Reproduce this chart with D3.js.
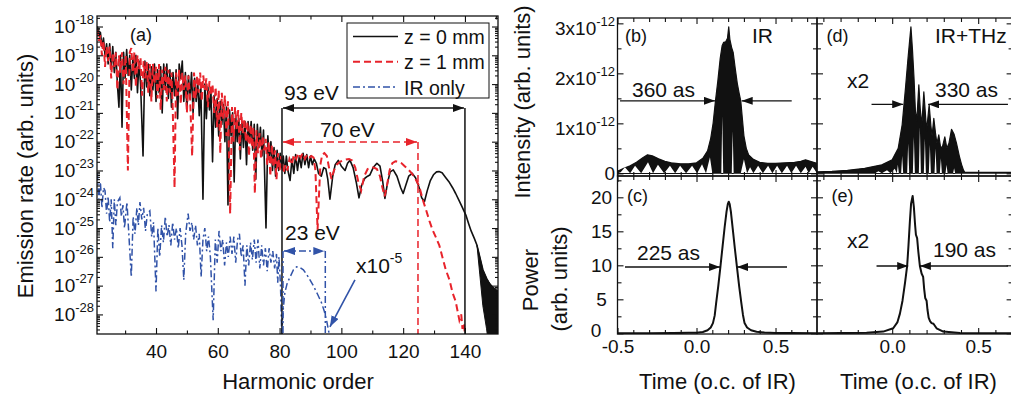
<!DOCTYPE html>
<html>
<head>
<meta charset="utf-8">
<script src="https://cdn.jsdelivr.net/npm/d3@7"></script>
<style>
  body { margin: 0; background: #fff; }
  svg { display: block; }
  text { font-family: "Liberation Sans", Arial, Helvetica, sans-serif; fill: #111; }
</style>
</head>
<body>
<svg id="fig" width="1011" height="399"></svg>
<script>
// ---------------- Panel (a): emission spectra, [harmonic order, log10(rate)] ----------------
const spectrumZ0 = [
  [21.0,-18.0],[21.5,-18.3],[22.0,-18.2],[22.5,-18.7],[23.0,-18.4],[23.5,-19.0],[24.0,-18.6],[24.5,-19.3],
  [25.0,-18.6],[25.5,-19.5],[26.0,-18.7],[26.5,-19.6],[27.0,-18.9],[27.5,-20.0],[28.0,-20.8],[28.5,-19.0],
  [29.0,-21.5],[29.5,-18.9],[30.0,-19.8],[30.5,-18.8],[31.0,-19.7],[31.5,-19.0],[32.0,-20.2],[32.5,-19.1],
  [33.0,-19.8],[33.5,-19.0],[34.0,-20.3],[34.5,-19.2],[35.0,-20.0],[35.8,-22.5],[36.4,-19.2],[37.0,-20.1],
  [37.5,-19.3],[38.0,-20.4],[38.5,-19.4],[39.0,-20.2],[39.5,-19.3],[40.0,-20.6],[40.5,-19.5],[41.0,-20.3],
  [41.5,-19.4],[42.0,-21.0],[42.5,-19.3],[43.0,-20.2],[43.5,-19.3],[44.0,-20.5],[44.5,-19.5],[45.0,-20.8],
  [45.5,-19.6],[46.0,-20.4],[46.5,-19.5],[47.0,-21.2],[47.5,-19.3],[48.0,-19.8],[48.5,-19.2],[49.0,-20.6],
  [49.5,-19.6],[50.0,-20.9],[50.5,-19.7],[51.0,-20.5],[51.5,-19.6],[52.0,-21.0],[52.5,-19.8],[53.0,-20.6],
  [53.5,-19.9],[54.0,-21.1],[54.5,-20.0],[55.2,-24.0],[55.8,-20.0],[56.3,-21.2],[56.8,-20.1],[57.3,-20.9],
  [57.8,-20.3],[58.3,-22.7],[58.8,-20.4],[59.3,-21.5],[59.8,-20.5],[60.3,-21.8],[60.8,-20.6],[61.3,-21.4],
  [61.8,-20.7],[62.3,-22.0],[62.8,-20.8],[63.3,-24.2],[63.8,-20.9],[64.3,-21.8],[64.8,-21.0],[65.3,-23.4],
  [65.8,-21.1],[66.3,-22.0],[66.8,-21.2],[67.3,-22.6],[67.8,-21.3],[68.3,-22.2],[68.8,-21.3],[69.3,-22.8],
  [69.8,-21.3],[70.3,-22.0],[70.8,-21.3],[71.3,-22.3],[71.8,-21.4],[72.3,-23.3],[72.8,-21.4],[73.3,-22.2],
  [73.8,-21.5],[74.3,-22.5],[74.8,-21.6],[75.6,-25.0],[76.2,-21.8],[76.7,-22.6],[77.2,-22.0],[77.7,-23.0],
  [78.2,-22.2],[78.7,-23.2],[79.2,-22.3],[79.7,-23.0],[80.2,-22.4],[80.7,-22.9],[81.2,-22.5],[81.7,-23.1],
  [82.2,-22.5],[82.7,-23.0],[83.4,-23.35],[84.0,-22.6],[84.6,-23.1],[85.2,-22.45],[85.8,-23.0],[86.4,-22.5],
  [87.0,-22.9],[87.6,-22.4],[88.2,-22.8],[88.8,-22.45],[89.4,-22.9],[90.0,-22.5],[90.6,-22.8],[91.2,-22.6],
  [91.9,-22.75],[92.6,-23.1],[93.5,-23.2],[94.3,-22.9],[95.0,-22.95],[95.6,-23.3],[96.3,-24.0],[97.2,-23.2],
  [98.0,-22.8],[99.0,-22.65],[100.0,-22.85],[101.2,-23.0],[102.0,-22.75],[102.8,-22.65],[103.8,-22.9],
  [104.8,-23.4],[105.7,-23.95],[106.6,-23.5],[107.6,-23.27],[108.5,-23.2],[109.2,-23.16],[110.3,-22.9],
  [111.5,-22.75],[112.5,-22.85],[113.4,-23.4],[114.1,-23.97],[115.0,-23.4],[115.8,-23.05],[116.8,-22.98],
  [118.0,-23.2],[119.2,-23.6],[120.0,-23.8],[120.9,-23.5],[121.8,-23.2],[122.9,-23.1],[124.0,-23.25],
  [125.2,-23.6],[126.0,-23.95],[126.9,-24.08],[127.8,-23.7],[128.8,-23.35],[129.8,-23.15],[130.8,-23.05],
  [131.6,-23.04],[132.6,-23.08],[133.8,-23.25],[135.0,-23.42],[136.0,-23.6],[137.0,-23.8],[138.0,-24.02],
  [139.0,-24.25],[140.3,-24.55],[141.2,-24.85],[142.0,-25.1],[143.0,-25.35],[143.9,-25.6],[144.8,-26.0],
  [145.8,-26.45],[147.0,-26.75],[148.0,-26.95],[149.0,-27.05],[150.0,-27.15],[150.6,-27.2],[150.7,-29.0]
];

// fast-oscillating cut-off tail of z = 0 mm: [order, upper log10, lower log10]
const spectrumZ0Tail = [
  [143.9,-25.6,-25.6],[144.8,-26.0,-26.6],[145.8,-26.45,-27.7],[147.0,-26.75,-28.5],
  [147.6,-26.85,-29.0],[148.6,-27.0,-29.0],[150.6,-27.2,-29.0]
];

const spectrumZ1 = [
  [21.0,-18.1],[21.5,-18.5],[22.0,-18.3],[22.5,-19.0],[23.0,-18.5],[23.5,-19.4],[24.0,-18.7],[24.5,-19.2],
  [25.0,-18.7],[25.5,-19.8],[26.0,-18.9],[26.5,-19.4],[27.0,-18.9],[27.5,-20.2],[28.0,-19.0],[28.5,-19.6],
  [29.0,-18.9],[29.5,-20.0],[30.2,-19.0],[30.9,-23.0],[31.5,-18.9],[32.0,-18.75],[32.5,-19.6],[33.0,-18.9],
  [33.5,-20.1],[34.0,-19.0],[34.5,-19.5],[35.0,-19.1],[35.5,-20.4],[36.0,-19.2],[36.5,-19.8],[37.0,-19.2],
  [37.5,-20.3],[38.0,-19.3],[38.5,-20.6],[39.0,-19.3],[39.5,-20.0],[40.0,-19.4],[40.5,-20.5],[41.0,-19.3],
  [41.5,-20.9],[42.0,-19.5],[42.5,-20.2],[43.0,-19.4],[43.5,-20.6],[44.0,-19.5],[44.5,-20.3],[45.0,-19.6],
  [45.4,-20.8],[46.0,-23.6],[46.5,-19.6],[47.0,-20.4],[47.5,-19.5],[48.0,-20.7],[48.5,-19.6],[49.0,-20.2],
  [49.5,-19.7],[50.0,-21.0],[50.5,-19.7],[51.0,-20.4],[51.7,-22.5],[52.3,-19.6],[52.8,-20.5],[53.3,-19.7],
  [53.8,-20.3],[54.3,-19.6],[54.8,-20.6],[55.3,-19.7],[55.8,-20.2],[56.3,-19.8],[56.8,-20.8],[57.3,-19.9],
  [57.8,-20.4],[58.3,-20.0],[58.8,-21.0],[59.3,-20.1],[59.8,-21.5],[60.3,-20.2],[60.8,-22.4],[61.3,-20.3],
  [61.8,-21.2],[62.3,-20.4],[62.8,-21.8],[63.3,-20.6],[64.0,-24.5],[64.6,-20.8],[65.1,-22.0],[65.6,-20.8],
  [66.1,-21.6],[66.6,-20.9],[67.1,-22.3],[67.6,-21.0],[68.1,-21.7],[68.6,-21.2],[69.1,-22.0],[69.6,-21.3],
  [70.1,-22.5],[70.6,-21.4],[71.1,-22.2],[71.5,-21.5],[72.0,-23.8],[72.5,-21.6],[73.0,-22.4],[73.5,-21.7],
  [74.0,-22.6],[74.5,-21.8],[75.0,-22.3],[75.5,-21.9],[76.0,-22.8],[76.5,-22.0],[77.0,-23.2],[77.5,-22.1],
  [78.0,-22.9],[78.5,-22.3],[79.0,-23.3],[79.5,-22.4],[80.0,-23.0],[80.5,-22.5],[81.2,-23.1],[81.9,-22.8],
  [82.5,-23.0],[83.2,-22.6],[84.0,-22.8],[84.6,-22.45],[85.4,-22.6],[86.0,-22.4],[86.8,-22.55],[87.5,-22.4],
  [88.2,-22.6],[88.9,-22.45],[89.6,-22.55],[90.3,-22.5],[91.0,-22.55],[91.6,-23.0],[92.0,-24.2],[92.3,-25.06],
  [92.7,-24.0],[93.2,-22.8],[93.8,-22.45],[94.5,-22.4],[95.3,-22.5],[96.0,-22.9],[96.8,-23.3],[97.6,-23.0],
  [98.5,-22.8],[99.5,-22.7],[100.5,-22.65],[101.5,-22.62],[102.5,-22.6],[103.5,-22.65],[104.5,-22.9],
  [105.5,-23.4],[106.4,-23.7],[107.4,-23.2],[108.5,-22.95],[109.5,-22.9],[110.5,-22.9],[111.5,-22.95],
  [112.5,-23.2],[113.3,-23.6],[114.0,-23.9],[114.8,-23.5],[115.6,-23.0],[116.5,-22.75],[117.5,-22.68],
  [118.5,-22.7],[119.5,-22.75],[120.5,-22.85],[121.5,-22.95],[122.8,-23.1],[124.0,-23.3],[125.2,-23.55],
  [126.3,-24.0],[127.5,-24.4],[128.5,-24.75],[129.5,-25.06],[130.5,-25.3],[131.7,-25.6],[132.8,-26.05],
  [133.8,-26.45],[135.0,-26.8],[136.0,-27.25],[137.0,-27.55],[138.2,-28.2],[138.8,-28.0],[139.2,-28.5],
  [139.7,-28.3],[140.2,-29.0]
];

const spectrumIRonly = [
  [21.0,-23.1],[21.5,-24.0],[22.0,-23.4],[22.5,-24.3],[23.0,-23.6],[23.5,-23.7],[24.0,-24.5],[24.5,-23.9],
  [25.0,-24.8],[25.5,-24.0],[26.0,-25.7],[26.5,-24.0],[27.0,-24.9],[27.5,-24.1],[28.3,-23.95],[28.8,-24.6],
  [29.3,-24.2],[29.8,-25.0],[30.6,-24.1],[31.2,-25.2],[32.0,-26.7],[32.6,-24.6],[33.2,-25.2],[33.8,-24.3],
  [34.3,-24.9],[34.8,-24.1],[35.4,-24.7],[36.0,-24.3],[36.6,-25.1],[37.2,-24.5],[38.0,-24.4],[38.6,-25.3],
  [39.2,-24.8],[40.0,-27.2],[40.6,-25.0],[41.2,-26.0],[41.8,-24.9],[42.4,-25.5],[43.0,-24.6],[43.6,-25.3],
  [44.2,-24.9],[44.8,-25.6],[45.4,-24.8],[46.0,-25.4],[46.6,-25.0],[47.2,-25.7],[47.8,-25.0],[48.4,-25.6],
  [49.0,-26.8],[49.6,-25.2],[50.4,-24.5],[51.0,-25.1],[51.6,-24.8],[52.2,-25.4],[52.8,-24.9],[53.4,-25.6],
  [54.0,-25.2],[54.6,-26.7],[55.2,-25.4],[55.8,-25.0],[56.4,-25.8],[57.0,-25.3],[57.6,-26.0],[58.5,-28.2],
  [59.2,-25.4],[59.8,-26.2],[60.4,-25.1],[61.0,-25.8],[61.6,-25.4],[62.2,-26.3],[62.8,-25.5],[63.4,-26.0],
  [64.0,-25.3],[64.6,-25.9],[65.2,-25.3],[65.8,-26.2],[66.4,-25.4],[67.0,-25.2],[67.6,-26.0],[68.2,-25.6],
  [68.8,-27.0],[69.4,-25.6],[70.0,-26.3],[70.6,-25.5],[71.2,-26.1],[71.8,-25.4],[72.4,-26.2],[73.0,-25.4],
  [73.6,-26.4],[74.2,-25.6],[74.8,-26.3],[75.4,-25.7],[76.0,-26.5],[76.6,-25.7],[77.2,-26.2],[77.8,-25.8],
  [78.4,-26.4],[79.0,-25.9],[79.4,-26.9],[79.8,-26.0],[80.3,-27.0],[80.7,-28.7],[81.2,-27.8],[81.7,-27.25],
  [82.5,-26.9],[83.4,-26.7],[84.5,-26.45],[85.5,-26.35],[86.6,-26.37],[87.7,-26.45],[89.3,-26.7],
  [90.9,-27.0],[92.3,-27.3],[93.6,-27.6],[94.5,-27.9],[95.2,-28.2],[96.1,-28.7]
];

const harmonicMajorTicks = [40, 60, 80, 100, 120, 140];
const harmonicMinorTicks = [30, 50, 70, 90, 110, 130, 150];
const emissionExponents = [-18, -19, -20, -21, -22, -23, -24, -25, -26, -27, -28];

// cut-off brackets: [left order, right order, level log10]
const bracket93 = [80.78, 140.0, -20.83];
const bracket70 = [80.78, 124.8, -22.01];
const bracket23 = [81.1, 94.8, -25.8];
const scaleArrowIR = [[104.4, -26.8], [96.3, -28.43]];

// ---------------- Panels (b)-(e): time profiles ----------------
// (b) IR only, intensity in units of 1e-12: upper envelope and the gaps under it
const intensityIRUpper = [
  [-0.50,0.04],[-0.46,0.10],[-0.42,0.15],[-0.38,0.22],[-0.34,0.31],[-0.31,0.37],[-0.28,0.35],[-0.24,0.29],
  [-0.20,0.24],[-0.16,0.21],[-0.10,0.19],[-0.05,0.19],[0.00,0.21],[0.04,0.30],[0.07,0.45],[0.09,0.70],
  [0.105,1.0],[0.12,1.45],[0.135,1.85],[0.15,2.3],[0.162,2.55],[0.172,2.62],[0.185,2.63],[0.196,2.70],
  [0.204,2.93],[0.211,2.68],[0.222,2.52],[0.232,2.42],[0.245,2.1],[0.258,1.8],[0.27,1.6],[0.28,1.45],
  [0.29,1.1],[0.30,0.75],[0.315,0.5],[0.33,0.37],[0.36,0.28],[0.40,0.22],[0.45,0.20],[0.50,0.20],
  [0.56,0.21],[0.62,0.22],[0.66,0.24],[0.69,0.27],[0.72,0.24],[0.7625,0.20]
];
const intensityIRLower = [
  [-0.50,0],[-0.48,0.02],[-0.453,0.12],[-0.42,0],[-0.389,0.15],[-0.35,0],[-0.307,0.22],[-0.275,0],
  [-0.244,0.17],[-0.205,0],[-0.168,0.15],[-0.135,0],[-0.104,0.15],[-0.066,0],[-0.028,0.15],[0.004,0],
  [0.035,0.18],[0.06,0],[0.085,0.32],[0.10,0],[0.157,0],[0.163,1.15],[0.169,0],[0.223,0],[0.229,0.85],
  [0.235,0],[0.28,0],[0.30,0.28],[0.32,0],[0.339,0.12],[0.36,0],[0.39,0.15],[0.42,0],[0.453,0.15],
  [0.48,0],[0.51,0.15],[0.54,0],[0.573,0.15],[0.60,0],[0.63,0.15],[0.66,0],[0.69,0.13],[0.71,0],
  [0.735,0.13],[0.7625,0]
];

// (d) IR+THz, intensity x2
const intensityTHzUpper = [
  [-0.437,0.03],[-0.35,0.04],[-0.26,0.06],[-0.16,0.10],[-0.06,0.17],[0.0,0.27],[0.035,0.5],[0.058,0.97],
  [0.078,1.73],[0.092,2.3],[0.10,2.6],[0.109,2.93],[0.118,2.47],[0.127,1.9],[0.135,1.25],[0.143,1.05],
  [0.155,1.77],[0.163,1.3],[0.172,0.95],[0.184,1.63],[0.193,1.2],[0.20,0.85],[0.215,1.37],[0.225,0.95],
  [0.232,0.75],[0.242,1.1],[0.252,0.8],[0.26,0.6],[0.271,0.77],[0.28,0.55],[0.29,0.5],[0.306,0.73],
  [0.318,0.5],[0.33,0.6],[0.345,0.88],[0.36,0.78],[0.374,0.6],[0.39,0.35],[0.403,0.18],[0.415,0.06],
  [0.422,0.02],[0.55,0.02],[0.70,0.02]
];
const intensityTHzLower = [
  [-0.437,0],[-0.10,0],[-0.08,0.04],[-0.06,0],[-0.03,0.06],[-0.01,0],[0.015,0.09],[0.027,0],
  [0.033,0.17],[0.039,0],[0.052,0],[0.058,0.35],[0.064,0],[0.087,0],[0.093,0.6],[0.099,0],
  [0.120,0],[0.126,0.73],[0.132,0],[0.155,0],[0.161,0.93],[0.167,0],[0.184,0],[0.19,0.7],[0.196,0],
  [0.213,0],[0.219,0.57],[0.225,0],[0.246,0],[0.252,0.5],[0.258,0],[0.277,0],[0.283,0.3],[0.289,0],
  [0.31,0],[0.316,0.17],[0.322,0],[0.354,0],[0.36,0.1],[0.366,0],[0.70,0]
];

// (c) and (e) filtered attosecond pulse power
const powerIR = [
  [-0.5,0],[-0.3,0.01],[-0.15,0.03],[-0.05,0.07],[0.0,0.1],[0.04,0.2],[0.07,0.45],[0.09,0.85],[0.104,1.5],
  [0.115,2.6],[0.124,4.4],[0.138,7.0],[0.151,9.75],[0.165,12.8],[0.178,15.6],[0.19,17.9],[0.198,19.0],
  [0.204,19.35],[0.21,19.0],[0.218,17.8],[0.23,15.2],[0.243,12.4],[0.256,9.75],[0.27,6.9],[0.284,4.4],
  [0.294,2.7],[0.304,1.5],[0.32,0.85],[0.345,0.45],[0.38,0.22],[0.43,0.12],[0.5,0.06],[0.6,0.03],[0.7625,0.01]
];
const powerTHz = [
  [-0.437,0.02],[-0.3,0.03],[-0.149,0.1],[-0.052,0.25],[0.006,0.74],[0.03,1.6],[0.045,2.9],[0.06,4.8],
  [0.075,7.5],[0.087,9.9],[0.095,13.0],[0.103,16.5],[0.11,19.1],[0.119,20.2],[0.126,18.6],[0.133,16.0],
  [0.138,14.5],[0.145,14.0],[0.152,12.0],[0.161,9.9],[0.171,8.8],[0.18,8.3],[0.186,6.5],[0.192,5.2],
  [0.2,4.8],[0.205,3.5],[0.212,2.3],[0.22,1.8],[0.229,1.5],[0.24,1.4],[0.258,0.74],[0.297,0.25],
  [0.394,0.05],[0.5,0.02],[0.7,0.01]
];

// FWHM markers: [level, left tail, left tip, right tip, right tail]
const fwhmB = [1.45, -0.484, 0.117, 0.286, 0.6025];
const fwhmC = [9.75, -0.4525, 0.149, 0.2563, 0.5728];
const fwhmD = [1.38, -0.12, 0.064, 0.209, 0.673];
const fwhmE = [9.9, -0.091, 0.093, 0.161, 0.673];

const timeMajorTicks = [-0.5, 0, 0.5];
const timeMinorTicks = [-0.4, -0.3, -0.2, -0.1, 0.1, 0.2, 0.3, 0.4, 0.6, 0.7];
const intensityMajorTicks = [0, 1, 2, 3];
const intensityMinorTicks = [0.5, 1.5, 2.5];
const powerMajorTicks = [0, 5, 10, 15, 20];
const powerMinorTicks = [2.5, 7.5, 12.5, 17.5, 22.5];

// ---------------- drawing ----------------
const RED = "#e8232b", BLUE = "#3153a8", BLACK = "#111";
const svg = d3.select("#fig");
const defs = svg.append("defs");

function marker(id, color, len, wid) {
  defs.append("marker").attr("id", id)
    .attr("viewBox", `0 0 ${len} ${wid}`).attr("refX", len).attr("refY", wid / 2)
    .attr("markerWidth", len).attr("markerHeight", wid)
    .attr("markerUnits", "userSpaceOnUse").attr("orient", "auto-start-reverse")
    .append("path").attr("d", `M0,0L${len},${wid / 2}L0,${wid}Z`).attr("fill", color);
}
marker("ahK", BLACK, 11, 8);
marker("ahR", RED, 11, 8);
marker("ahB", BLUE, 11, 8);

function clip(id, x0, y0, x1, y1) {
  defs.append("clipPath").attr("id", id).append("rect")
    .attr("x", x0).attr("y", y0).attr("width", x1 - x0).attr("height", y1 - y0);
  return `url(#${id})`;
}

// tick marks pointing into the plot area
function tickMarks(axisFn, scale, values, size, tx, ty) {
  const g = svg.append("g").attr("transform", `translate(${tx},${ty})`)
    .call(axisFn(scale).tickValues(values).tickSize(-size).tickSizeOuter(0).tickFormat(""));
  g.select(".domain").remove();
  g.selectAll(".tick line").attr("stroke", BLACK).attr("stroke-width", 1.1);
  return g;
}
function tickLabels(axisFn, scale, values, pad, tx, ty, fmt) {
  const g = svg.append("g").attr("transform", `translate(${tx},${ty})`)
    .call(axisFn(scale).tickValues(values).tickSize(0).tickPadding(pad).tickFormat(fmt || (d => d)));
  g.select(".domain").remove();
  g.selectAll(".tick line").remove();
  g.attr("font-family", null).attr("font-size", null);
  g.selectAll("text").style("font-size", "19px").attr("fill", BLACK);
  return g;
}
function frame(x0, y0, x1, y1) {
  svg.append("rect").attr("x", x0).attr("y", y0).attr("width", x1 - x0).attr("height", y1 - y0)
    .attr("fill", "none").attr("stroke", BLACK).attr("stroke-width", 1.3);
}
function label(x, y, str, size, color, anchor) {
  return svg.append("text").attr("x", x).attr("y", y).text(str)
    .style("font-size", size + "px").attr("fill", color || BLACK)
    .attr("text-anchor", anchor || "start");
}
function vlabel(x, y, str, size) {
  return svg.append("text").attr("transform", `translate(${x},${y}) rotate(-90)`)
    .attr("text-anchor", "middle").style("font-size", size + "px").attr("fill", BLACK).text(str);
}

// ===== panel (a) =====
const A = { x0: 97, x1: 498, y0: 16, y1: 334 };
const xA = d3.scaleLinear().domain([20.9, 150.7]).range([A.x0, A.x1]);
const yA = d3.scaleLog().domain([Math.pow(10, -28.68), Math.pow(10, -17.635)]).range([A.y1, A.y0]);
const pA = d => yA(Math.pow(10, d));
const lineA = d3.line().x(d => xA(d[0])).y(d => pA(d[1]));
const gA = svg.append("g").attr("clip-path", clip("clipA", A.x0, A.y0, A.x1, A.y1));

gA.append("path").datum(spectrumIRonly).attr("d", lineA).attr("fill", "none")
  .attr("stroke", BLUE).attr("stroke-width", 1.5).attr("stroke-dasharray", "7,3,2,3");
gA.append("path").datum(spectrumZ0Tail)
  .attr("d", d3.area().x(d => xA(d[0])).y0(d => pA(d[2])).y1(d => pA(d[1])))
  .attr("fill", BLACK).attr("stroke", BLACK).attr("stroke-width", 1);
gA.append("path").datum(spectrumZ0).attr("d", lineA).attr("fill", "none")
  .attr("stroke", BLACK).attr("stroke-width", 1.6).attr("stroke-linejoin", "round");
gA.append("path").datum(spectrumZ1).attr("d", lineA).attr("fill", "none")
  .attr("stroke", RED).attr("stroke-width", 2).attr("stroke-dasharray", "7,4");

// cut-off brackets
function bracket(b, color, dash, mk, withLeft) {
  const y = pA(b[2]);
  const g = svg.append("g").attr("stroke", color).attr("stroke-width", 1.5).attr("fill", "none");
  if (dash) g.attr("stroke-dasharray", dash);
  if (withLeft) g.append("line").attr("x1", xA(b[0])).attr("x2", xA(b[0])).attr("y1", y).attr("y2", A.y1);
  g.append("line").attr("x1", xA(b[1])).attr("x2", xA(b[1])).attr("y1", y).attr("y2", A.y1);
  svg.append("line").attr("x1", xA(b[0]) + 1).attr("x2", xA(b[1]) - 1).attr("y1", y).attr("y2", y)
    .attr("stroke", color).attr("stroke-width", 1.5).attr("stroke-dasharray", dash || null)
    .attr("marker-start", `url(#${mk})`).attr("marker-end", `url(#${mk})`);
}
bracket(bracket93, BLACK, null, "ahK", true);
bracket(bracket70, RED, "7,4", "ahR", false);
bracket(bracket23, BLUE, "7,3,2,3", "ahB", true);

svg.append("line")
  .attr("x1", xA(scaleArrowIR[0][0])).attr("y1", pA(scaleArrowIR[0][1]))
  .attr("x2", xA(scaleArrowIR[1][0])).attr("y2", pA(scaleArrowIR[1][1]))
  .attr("stroke", BLUE).attr("stroke-width", 1.6).attr("marker-end", "url(#ahB)");

label(284, 100, "93 eV", 21);
label(320, 137, "70 eV", 21, RED);
label(285, 240, "23 eV", 21, BLUE);
const x10 = label(356, 273, "x10", 21, BLUE);
x10.append("tspan").attr("dy", -10).style("font-size", "14px").text("-5");
label(130, 41, "(a)", 18);

// legend
const leg = svg.append("g");
leg.append("rect").attr("x", 347).attr("y", 23).attr("width", 142).attr("height", 75)
  .attr("fill", "#fff").attr("stroke", BLACK).attr("stroke-width", 1);
const legendItems = [
  { name: "z = 0 mm", color: BLACK, dash: null, w: 1.6 },
  { name: "z = 1 mm", color: RED, dash: "7,4", w: 2 },
  { name: "IR only", color: BLUE, dash: "7,3,2,3", w: 1.5 }
];
legendItems.forEach((it, i) => {
  const yb = 44 + i * 25.3;
  leg.append("line").attr("x1", 353).attr("x2", 398).attr("y1", yb - 7.5).attr("y2", yb - 7.5)
    .attr("stroke", it.color).attr("stroke-width", it.w).attr("stroke-dasharray", it.dash);
  leg.append("text").attr("x", 404).attr("y", yb).style("font-size", "19.5px").attr("fill", BLACK).text(it.name);
});

// axes (a)
const logTicks = yA.ticks(20);
const logMajor = logTicks.filter(v => Math.abs(Math.log10(v) - Math.round(Math.log10(v))) < 1e-6);
const logMinor = logTicks.filter(v => !logMajor.includes(v));
tickMarks(d3.axisLeft, yA, logMajor, 6, A.x0, 0);
tickMarks(d3.axisLeft, yA, logMinor, 3, A.x0, 0);
tickMarks(d3.axisRight, yA, logMajor, 6, A.x1, 0);
tickMarks(d3.axisRight, yA, logMinor, 3, A.x1, 0);
tickMarks(d3.axisBottom, xA, harmonicMajorTicks, 6, 0, A.y1);
tickMarks(d3.axisBottom, xA, harmonicMinorTicks, 3.5, 0, A.y1);
tickMarks(d3.axisTop, xA, harmonicMajorTicks, 6, 0, A.y0);
tickMarks(d3.axisTop, xA, harmonicMinorTicks, 3.5, 0, A.y0);
tickLabels(d3.axisBottom, xA, harmonicMajorTicks, 10.5, 0, A.y1);
const yLabA = tickLabels(d3.axisLeft, yA, emissionExponents.map(e => Math.pow(10, e)), 3, A.x0, 0, () => "");
yLabA.selectAll(".tick text").each(function (v) {
  const t = d3.select(this);
  t.append("tspan").text("10");
  t.append("tspan").attr("dy", -9).style("font-size", "13px").text(String(Math.round(Math.log10(v))));
});
frame(A.x0, A.y0, A.x1, A.y1);
label(298, 389, "Harmonic order", 22, BLACK, "middle");
vlabel(33, 176, "Emission rate (arb. units)", 22);

// ===== panels (b)-(e) =====
const B = { x0: 617.5, x1: 817, y0: 18, y1: 176 };
const C = { x0: 617.5, x1: 817, y0: 176, y1: 334 };
const D = { x0: 817, x1: 1012.6, y0: 18, y1: 176 };
const E = { x0: 817, x1: 1012.6, y0: 176, y1: 334 };
const xBC = d3.scaleLinear().domain([-0.5, 0.7625]).range([B.x0, B.x1]);
const xDE = d3.scaleLinear().domain([-0.437, 0.7]).range([D.x0, D.x1]);
const yBD = d3.scaleLinear().domain([-0.053, 3.107]).range([B.y1, B.y0]);
const yCE = d3.scaleLinear().domain([-0.1, 23.135]).range([C.y1, C.y0]);

function intensityPanel(P, xs, upper, lower, id) {
  const g = svg.append("g").attr("clip-path", clip(id, P.x0, P.y0, P.x1, P.y1));
  g.append("path").datum(upper)
    .attr("d", d3.area().x(d => xs(d[0])).y0(yBD(0)).y1(d => yBD(d[1])))
    .attr("fill", BLACK).attr("stroke", BLACK).attr("stroke-width", 1.2).attr("stroke-linejoin", "round");
  g.append("path").datum(lower)
    .attr("d", d3.area().x(d => xs(d[0])).y0(yBD(0) - 0.4).y1(d => yBD(d[1])))
    .attr("fill", "#fff");
}
function powerPanel(P, xs, data, id) {
  const g = svg.append("g").attr("clip-path", clip(id, P.x0, P.y0, P.x1, P.y1));
  g.append("path").datum(data)
    .attr("d", d3.line().x(d => xs(d[0])).y(d => yCE(d[1])))
    .attr("fill", "none").attr("stroke", BLACK).attr("stroke-width", 2).attr("stroke-linejoin", "round");
}
intensityPanel(B, xBC, intensityIRUpper, intensityIRLower, "clipB");
intensityPanel(D, xDE, intensityTHzUpper, intensityTHzLower, "clipD");
powerPanel(C, xBC, powerIR, "clipC");
powerPanel(E, xDE, powerTHz, "clipE");

function fwhm(f, xs, ys) {
  const y = ys(f[0]);
  [[f[1], f[2]], [f[4], f[3]]].forEach(([a, b]) => {
    svg.append("line").attr("x1", xs(a)).attr("x2", xs(b)).attr("y1", y).attr("y2", y)
      .attr("stroke", BLACK).attr("stroke-width", 1.4).attr("marker-end", "url(#ahK)");
  });
}
fwhm(fwhmB, xBC, yBD);
fwhm(fwhmC, xBC, yCE);
fwhm(fwhmD, xDE, yBD);
fwhm(fwhmE, xDE, yCE);

// axes (b)-(e)
[[B, xBC], [C, xBC], [D, xDE], [E, xDE]].forEach(([P, xs]) => {
  const maj = timeMajorTicks.filter(v => v >= xs.domain()[0] - 1e-9 && v <= xs.domain()[1]);
  const min = timeMinorTicks.filter(v => v >= xs.domain()[0] && v <= xs.domain()[1]);
  tickMarks(d3.axisBottom, xs, maj, 6, 0, P.y1);
  tickMarks(d3.axisBottom, xs, min, 4, 0, P.y1);
  tickMarks(d3.axisTop, xs, maj, 6, 0, P.y0);
  tickMarks(d3.axisTop, xs, min, 4, 0, P.y0);
});
[[B, yBD, intensityMajorTicks, intensityMinorTicks], [D, yBD, intensityMajorTicks, intensityMinorTicks],
 [C, yCE, powerMajorTicks, powerMinorTicks], [E, yCE, powerMajorTicks, powerMinorTicks]]
  .forEach(([P, ys, maj, min]) => {
    tickMarks(d3.axisLeft, ys, maj, 6, P.x0, 0);
    tickMarks(d3.axisLeft, ys, min, 4, P.x0, 0);
    tickMarks(d3.axisRight, ys, maj, 6, P.x1, 0);
    tickMarks(d3.axisRight, ys, min, 4, P.x1, 0);
  });

const yLabB = tickLabels(d3.axisLeft, yBD, intensityMajorTicks, 2.5, B.x0, 0, () => "");
yLabB.selectAll(".tick text").each(function (v) {
  const t = d3.select(this);
  if (v === 0) { t.text("0"); return; }
  t.attr("y", 5);
  t.append("tspan").text(v + "x10");
  t.append("tspan").attr("dy", -9).style("font-size", "13px").text("-12");
});
// power labels sit centred in the gutter left of (c)
const yLabC = tickLabels(d3.axisLeft, yCE, powerMajorTicks, 16, C.x0, 0);
yLabC.selectAll(".tick text").attr("text-anchor", "middle");
yLabC.selectAll(".tick text").filter(v => v === 0).attr("x", -21.5).attr("y", -3);
const fmtTime = d3.format(".1f");
tickLabels(d3.axisBottom, xBC, timeMajorTicks, 5.5, 0, C.y1, d => fmtTime(d).replace("\u2212", "-"));
tickLabels(d3.axisBottom, xDE, timeMajorTicks.filter(v => v >= xDE.domain()[0]), 5.5, 0, E.y1,
  d => fmtTime(d).replace("\u2212", "-"));

frame(B.x0, B.y0, B.x1, B.y1);
frame(C.x0, C.y0, C.x1, C.y1);
frame(D.x0, D.y0, D.x1, D.y1);
frame(E.x0, E.y0, E.x1, E.y1);

label(625, 41.5, "(b)", 18);
label(627, 201.5, "(c)", 18);
label(826.5, 41.5, "(d)", 18);
label(831.5, 201.5, "(e)", 18);
label(752, 43, "IR", 21);
label(935, 43, "IR+THz", 21);
label(632, 97, "360 as", 21);
label(637, 260, "225 as", 21);
label(935, 97, "330 as", 21);
label(933, 257, "190 as", 21);
label(847, 88, "x2", 21);
label(847, 248, "x2", 21);

vlabel(530, 102, "Intensity (arb. units)", 22);
vlabel(538, 280, "Power", 22);
vlabel(567, 279, "(arb. units)", 22);
label(717.5, 389, "Time (o.c. of IR)", 22, BLACK, "middle");
label(918.5, 389, "Time (o.c. of IR)", 22, BLACK, "middle");
</script>
</body>
</html>
